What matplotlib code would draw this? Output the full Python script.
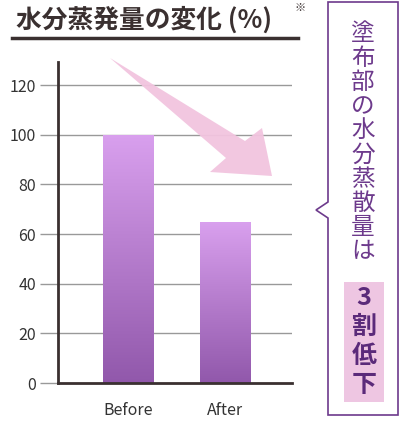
import matplotlib
matplotlib.use("Agg")
import matplotlib.pyplot as plt
import numpy as np
from matplotlib.patches import Polygon, Rectangle
from matplotlib.colors import LinearSegmentedColormap

plt.rcParams['font.family'] = ['Noto Sans CJK JP', 'DejaVu Sans']

categories = ["Before", "After"]
values = [100, 65]
yticks = [0, 20, 40, 60, 80, 100, 120]
title = "水分蒸発量の変化 (%)"
callout = "塗布部の水分蒸散量は"
highlight = ["3", "割", "低", "下"]

W, H = 400, 421
fig = plt.figure(figsize=(4, 4.21), dpi=100)
def fx(px): return px / W
def fy(py): return 1 - py / H

ax = fig.add_axes([fx(58), fy(383), fx(292) - fx(58), fy(62) - fy(383)])
ax.set_yticks(yticks)
ax.set_yticklabels([str(t) for t in yticks], fontsize=11.5, color="#333333")
ax.tick_params(axis='y', length=13, color="#999999", width=1, pad=3)
ax.tick_params(axis='x', length=0, pad=14, labelsize=11.5, labelcolor="#333333")
ax.set_xticks(range(len(categories)))
ax.set_xticklabels(categories)
for t in yticks[1:]:
    ax.axhline(t, color="#999999", lw=1, zorder=0)
for s in ["top", "right"]:
    ax.spines[s].set_visible(False)
ax.spines["left"].set_color("#3a3030"); ax.spines["left"].set_linewidth(2)
ax.spines["bottom"].set_color("#3a3030"); ax.spines["bottom"].set_linewidth(2)

grad = np.linspace(0, 1, 256).reshape(-1, 1)
cmap = LinearSegmentedColormap.from_list("g", ["#9158ab", "#d9a0ee"])
bw = 0.515
for i, v in enumerate(values):
    r = Rectangle((i - bw / 2, 0), bw, v, facecolor="none", edgecolor="none")
    ax.add_patch(r)
    im = ax.imshow(grad, cmap=cmap, extent=[i - bw / 2, i + bw / 2, 0, v],
                   origin="lower", aspect="auto", zorder=2)
    im.set_clip_path(r)
ax.set_xlim(-0.72, 1.69)
ax.set_ylim(0, (383 - 62) / 2.483)

pts = [(110, 58), (245, 141), (262, 128), (272, 176), (210, 172), (226, 158)]
fig.patches.append(Polygon([(fx(x), fy(y)) for x, y in pts], closed=True,
                           transform=fig.transFigure, facecolor="#f2c4df",
                           edgecolor="none", alpha=0.95, zorder=5))

fig.text(fx(16), fy(20), title, fontsize=18.5, fontweight="bold", color="#3a3030",
         va="center", ha="left")
fig.text(fx(295), fy(8), "※", fontsize=8, color="#3a3030", va="center")
fig.add_artist(plt.Line2D([fx(12), fx(298)], [fy(38), fy(38)], color="#3a3030", lw=2.5))

purple = "#6d3a8c"
box = [(328, 2), (398, 2), (398, 415), (328, 415), (328, 218), (316, 210), (328, 202)]
fig.patches.append(Polygon([(fx(x), fy(y)) for x, y in box], closed=True,
                           transform=fig.transFigure, facecolor="white",
                           edgecolor=purple, lw=1.2))
for k, ch in enumerate(callout):
    fig.text(fx(363), fy(34 + k * 24.2), ch, fontsize=17, color=purple,
             ha="center", va="center")
fig.patches.append(Rectangle((fx(344), fy(402)), fx(384) - fx(344), fy(282) - fy(402),
                             transform=fig.transFigure, facecolor="#eec6e2", edgecolor="none"))
for k, ch in enumerate(highlight):
    fig.text(fx(364), fy(298 + k * 29), ch, fontsize=18, fontweight="bold",
             color="#5b2a7a", ha="center", va="center")

fig.savefig("out.png", dpi=100)
